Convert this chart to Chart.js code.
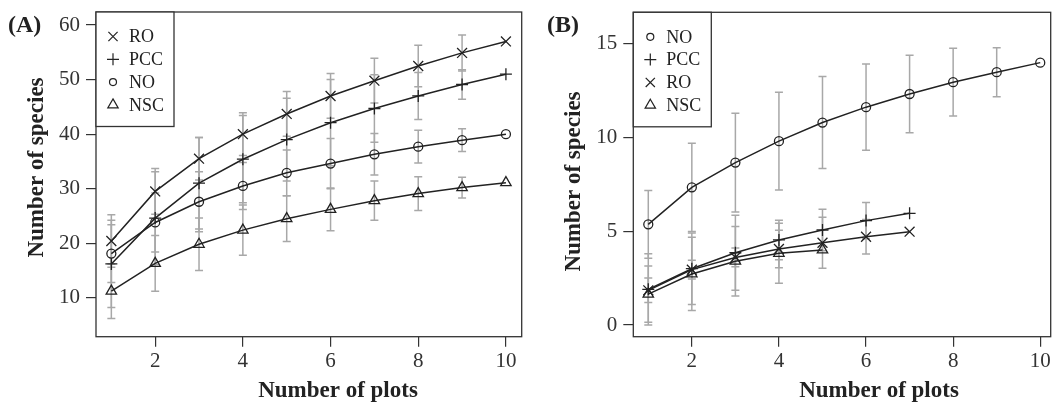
<!DOCTYPE html>
<html>
<head>
<meta charset="utf-8">
<script src="https://cdn.jsdelivr.net/npm/chart.js@4.4.0/dist/chart.umd.min.js"></script>
<style>
  html, body { margin: 0; padding: 0; background: #fff; }
  #wrap { position: relative; width: 1059px; height: 402px; overflow: hidden; }
  .panel { position: absolute; top: 0; }
</style>
</head>
<body>
<div id="wrap">
  <div class="panel" style="left:0"><canvas id="chartA" width="530" height="402"></canvas></div>
  <div class="panel" style="left:530px"><canvas id="chartB" width="529" height="402"></canvas></div>
</div>
<script>
const SERIF = "'Liberation Serif', 'Times New Roman', serif";

const plots = [1, 2, 3, 4, 5, 6, 7, 8, 9, 10];
const xTicks = [2, 4, 6, 8, 10];

// panel (A)
const yTicksA = [10, 20, 30, 40, 50, 60];
const roA = [20.4, 29.5, 35.5, 40.0, 43.7, 47.0, 49.8, 52.5, 54.9, 57.0];
const roErrA = [4.8, 4.2, 3.9, 3.9, 4.1, 4.1, 4.1, 3.8, 3.3, 0];
const pccA = [16.2, 24.6, 31.0, 35.4, 39.0, 42.1, 44.7, 47.0, 49.1, 51.0];
const pccErrA = [8.0, 8.5, 8.4, 8.0, 7.6, 7.9, 6.2, 4.3, 2.7, 0];
const noA = [18.1, 23.8, 27.6, 30.5, 32.9, 34.6, 36.3, 37.7, 38.9, 40.0];
const noErrA = [5.3, 5.4, 5.5, 4.3, 4.2, 4.6, 3.8, 3.0, 2.1, 0];
const nscA = [11.2, 16.3, 19.8, 22.4, 24.5, 26.2, 27.8, 29.1, 30.2, 31.1];
const nscErrA = [5.0, 5.1, 4.8, 4.6, 4.2, 3.9, 3.6, 3.1, 1.9, 0];

// panel (B)
const yTicksB = [0, 5, 10, 15];
const noB = [5.36, 7.33, 8.65, 9.79, 10.78, 11.6, 12.3, 12.93, 13.46, 13.97];
const noErrB = [1.8, 2.35, 2.63, 2.6, 2.45, 2.3, 2.06, 1.8, 1.3, 0];
const pccB = [1.9, 3.0, 3.85, 4.53, 5.06, 5.56, 5.95];
const pccErrB = [1.9, 1.9, 2.0, 1.05, 1.1, 0.97, 0];
const roB = [1.85, 2.95, 3.6, 4.05, 4.38, 4.7, 4.97];
const roErrB = [0.65, 0.5, 0.5, 1.0, 1.36, 0.92, 0];
const nscB = [1.65, 2.72, 3.4, 3.82, 4.0];
const nscErrB = [1.5, 1.95, 1.85, 1.6, 0];

const STYLE = {
  RO: { pointStyle: 'crossRot', radius: 7 },
  PCC: { pointStyle: 'cross', radius: 6 },
  NO: { pointStyle: 'circle', radius: 4.5 },
  NSC: { pointStyle: 'triangle', radius: 6 }
};

function series(label, ys, errs) {
  const st = STYLE[label];
  return {
    label: label,
    data: ys.map((y, i) => ({ x: plots[i], y: y })),
    errorBars: errs,
    borderColor: '#222',
    borderWidth: 1.5,
    tension: 0,
    pointStyle: st.pointStyle,
    pointRadius: st.radius,
    pointBorderWidth: 1.3,
    pointBorderColor: '#222',
    pointBackgroundColor: 'rgba(0,0,0,0)'
  };
}

function marker(ctx, style, x, y, r) {
  ctx.beginPath();
  if (style === 'circle') {
    ctx.arc(x, y, r, 0, Math.PI * 2);
  } else if (style === 'cross') {
    ctx.moveTo(x - r, y); ctx.lineTo(x + r, y);
    ctx.moveTo(x, y - r); ctx.lineTo(x, y + r);
  } else if (style === 'crossRot') {
    const d = r * Math.SQRT1_2;
    ctx.moveTo(x - d, y - d); ctx.lineTo(x + d, y + d);
    ctx.moveTo(x - d, y + d); ctx.lineTo(x + d, y - d);
  } else if (style === 'triangle') {
    const h = r * 0.866;
    ctx.moveTo(x, y - r);
    ctx.lineTo(x + h, y + r / 2);
    ctx.lineTo(x - h, y + r / 2);
    ctx.closePath();
  }
  ctx.stroke();
}

const panelPlugin = {
  id: 'panel',
  beforeDatasetsDraw(chart) {
    const ctx = chart.ctx, ys = chart.scales.y;
    ctx.save();
    ctx.strokeStyle = '#a8a8a8';
    ctx.lineWidth = 1.5;
    chart.data.datasets.forEach((ds, di) => {
      const meta = chart.getDatasetMeta(di);
      ds.data.forEach((p, i) => {
        const e = ds.errorBars[i];
        if (!e) return;
        const x = meta.data[i].x;
        const top = ys.getPixelForValue(p.y + e);
        const bot = ys.getPixelForValue(p.y - e);
        ctx.beginPath();
        ctx.moveTo(x, top); ctx.lineTo(x, bot);
        ctx.moveTo(x - 4, top); ctx.lineTo(x + 4, top);
        ctx.moveTo(x - 4, bot); ctx.lineTo(x + 4, bot);
        ctx.stroke();
      });
    });
    ctx.restore();
  },
  afterDraw(chart, args, opts) {
    const ctx = chart.ctx, a = chart.chartArea;
    ctx.save();
    // frame
    ctx.strokeStyle = '#333';
    ctx.lineWidth = 1.3;
    ctx.strokeRect(a.left, a.top, a.right - a.left, a.bottom - a.top);

    // legend box
    const lx = a.left, ly = a.top, lw = 78, lh = 114.5;
    ctx.fillStyle = '#fff';
    ctx.fillRect(lx, ly, lw, lh);
    ctx.strokeRect(lx, ly, lw, lh);
    ctx.font = '18px ' + SERIF;
    ctx.textBaseline = 'middle';
    ctx.textAlign = 'left';
    chart.data.datasets.forEach((ds, i) => {
      const y = ly + 24.5 + i * 22.8;
      ctx.strokeStyle = '#222';
      ctx.lineWidth = 1.2;
      const r = ds.pointStyle === 'circle' ? 3.5 : ds.pointStyle === 'crossRot' ? 6.5 : 6;
      marker(ctx, ds.pointStyle, lx + 17, y, r);
      ctx.fillStyle = '#222';
      ctx.fillText(ds.label, lx + 33, y + 1);
    });

    // panel letter
    ctx.font = 'bold 24px ' + SERIF;
    ctx.fillStyle = '#222';
    ctx.fillText(opts.letter, opts.letterX, 26);

    // axis titles
    ctx.font = 'bold 23px ' + SERIF;
    ctx.textAlign = 'center';
    ctx.fillText('Number of plots', opts.xTitleX, 391);
    ctx.translate(opts.yTitleX, opts.yTitleY);
    ctx.rotate(-Math.PI / 2);
    ctx.fillText('Number of species', 0, 0);
    ctx.restore();
  }
};

function makeChart(id, datasets, xr, yr, yTicks, yWidth, padRight, padTop, opts) {
  return new Chart(document.getElementById(id), {
    type: 'line',
    data: { datasets: datasets },
    plugins: [panelPlugin],
    options: {
      responsive: false,
      animation: false,
      layout: { padding: { top: padTop, right: padRight, left: 0, bottom: 0 } },
      plugins: { legend: { display: false }, tooltip: { enabled: false }, panel: opts },
      scales: {
        x: {
          type: 'linear', min: xr[0], max: xr[1],
          border: { display: false },
          grid: { drawOnChartArea: false, drawTicks: true, tickLength: 10, color: '#333', lineWidth: 1.2 },
          afterBuildTicks: s => { s.ticks = xTicks.map(v => ({ value: v })); },
          afterFit: s => { s.height = 65.3; s.paddingLeft = 0; s.paddingRight = 0; },
          ticks: { font: { family: SERIF, size: 21 }, color: '#333', padding: 2, maxRotation: 0 }
        },
        y: {
          type: 'linear', min: yr[0], max: yr[1],
          border: { display: false },
          grid: { drawOnChartArea: false, drawTicks: true, tickLength: 10, color: '#333', lineWidth: 1.2 },
          afterBuildTicks: s => { s.ticks = yTicks.map(v => ({ value: v })); },
          afterFit: s => { s.width = yWidth; s.paddingTop = 0; s.paddingBottom = 0; },
          ticks: { font: { family: SERIF, size: 21 }, color: '#333', padding: 6 }
        }
      }
    }
  });
}

makeChart('chartA',
  [series('RO', roA, roErrA), series('PCC', pccA, pccErrA), series('NO', noA, noErrA), series('NSC', nscA, nscErrA)],
  [0.65, 10.36], [2.85, 62.4], yTicksA, 96, 4.3, 12,
  { letter: '(A)', letterX: 8, xTitleX: 338, yTitleX: 37, yTitleY: 167.5 });

makeChart('chartB',
  [series('NO', noB, noErrB), series('PCC', pccB, pccErrB), series('RO', roB, roErrB), series('NSC', nscB, nscErrB)],
  [0.656, 10.24], [-0.62, 16.65], yTicksB, 103.3, 1, 12.3,
  { letter: '(B)', letterX: 17, xTitleX: 349, yTitleX: 44, yTitleY: 181.5 });
</script>
</body>
</html>
